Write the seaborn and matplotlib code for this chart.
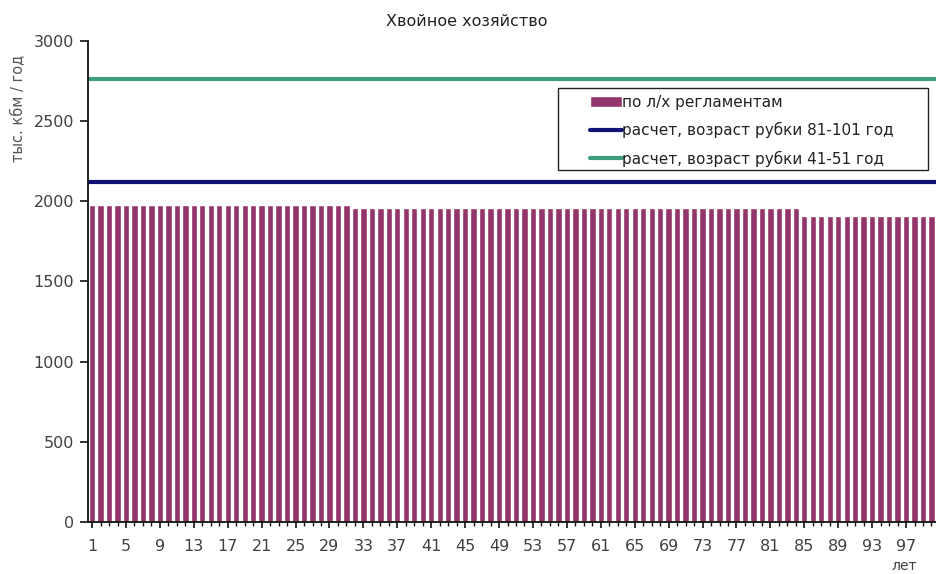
import matplotlib
matplotlib.use('Agg')
import matplotlib.pyplot as plt
import pandas as pd
import seaborn as sns
from matplotlib.patches import Rectangle
from matplotlib.ticker import FixedLocator

sns.set_theme(style='white')
plt.rcParams['font.family'] = ['DejaVu Sans']

TITLE = 'Хвойное хозяйство'
Y_LABEL = 'тыс. кбм / год'
X_LABEL = 'лет'
BAR_LABEL = 'по л/х регламентам'
LINE_LABELS = ['расчет, возраст рубки 81-101 год', 'расчет, возраст рубки 41-51 год']

years = list(range(1, 101))
# values, by year
reglament = [
    1980, 1980, 1980, 1980, 1980, 1980, 1980, 1980, 1980, 1980,
    1980, 1980, 1980, 1980, 1980, 1980, 1980, 1980, 1980, 1980,
    1980, 1980, 1980, 1980, 1980, 1980, 1980, 1980, 1980, 1980,
    1980, 1960, 1960, 1960, 1960, 1960, 1960, 1960, 1960, 1960,
    1960, 1960, 1960, 1960, 1960, 1960, 1960, 1960, 1960, 1960,
    1960, 1960, 1960, 1960, 1960, 1960, 1960, 1960, 1960, 1960,
    1960, 1960, 1960, 1960, 1960, 1960, 1960, 1960, 1960, 1960,
    1960, 1960, 1960, 1960, 1960, 1960, 1960, 1960, 1960, 1960,
    1960, 1960, 1960, 1960, 1910, 1910, 1910, 1910, 1910, 1910,
    1910, 1910, 1910, 1910, 1910, 1910, 1910, 1910, 1910, 1910,
]
calc_levels = [2120, 2760]

BAR_COLOR = '#93356a'
LINE_COLORS = ['#10127a', '#3f9f7c']
TEXT_COLOR = '#404040'

df = pd.DataFrame({'year': years, 'value': reglament})

fig = plt.figure(figsize=(9.37, 5.74), dpi=100)
ax = fig.add_axes([0.094, 0.0906, 0.906, 0.838])

sns.barplot(data=df, x='year', y='value', order=years, color=BAR_COLOR,
            width=0.75, saturation=1, ax=ax, label=BAR_LABEL)
for level, color, label in zip(calc_levels, LINE_COLORS, LINE_LABELS):
    ax.axhline(level, color=color, lw=3, label=label)

ax.set_xlim(-0.47, 99.65)
ax.set_ylim(0, 3000)
ax.set_yticks(range(0, 3001, 500))

major = list(range(0, len(years), 4))
ax.xaxis.set_major_locator(FixedLocator(major))
ax.set_xticklabels([str(years[i]) for i in major])
ax.xaxis.set_minor_locator(FixedLocator(range(len(years))))

for side in ['top', 'right']:
    ax.spines[side].set_visible(False)
for side in ['left', 'bottom']:
    ax.spines[side].set_color('#111111')
    ax.spines[side].set_linewidth(1.3)

ax.tick_params(axis='y', which='major', left=True, length=6, width=1.2,
               color='#111111', labelsize=11.5, labelcolor=TEXT_COLOR, pad=4)
ax.tick_params(axis='x', which='major', bottom=True, length=4, width=1.2,
               color='#111111', labelsize=11.5, labelcolor=TEXT_COLOR, pad=8)
ax.tick_params(axis='x', which='minor', bottom=True, length=3, width=1,
               color='#111111')

ax.set_xlabel('')
ax.set_ylabel(Y_LABEL, fontsize=10.5, color='#555555')
ax.yaxis.set_label_coords(-0.074, 0.86)
fig.text(0.965, 0.014, X_LABEL, fontsize=10, color=TEXT_COLOR,
         ha='center', va='center')
fig.text(0.498, 0.962, TITLE, fontsize=11.5, color='#222222',
         ha='center', va='center')

# legend box drawn separately so the entries sit inset like the original
ax.add_patch(Rectangle((0.5536, 0.7318), 0.4358, 0.1705, transform=ax.transAxes,
                       facecolor='white', edgecolor='#222222', lw=1, zorder=4))

handles, labels = ax.get_legend_handles_labels()
order = [labels.index(BAR_LABEL)] + [labels.index(l) for l in LINE_LABELS]
leg = ax.legend([handles[i] for i in order], [labels[i] for i in order],
                loc='upper left', bbox_to_anchor=(0.5913, 0.888), fontsize=11,
                frameon=False, borderpad=0, labelspacing=0.8,
                handlelength=2.1, handletextpad=0.0, borderaxespad=0)
leg.set_zorder(5)
for text in leg.get_texts():
    text.set_color('#222222')

fig.savefig('out.png', dpi=100, facecolor='white')
